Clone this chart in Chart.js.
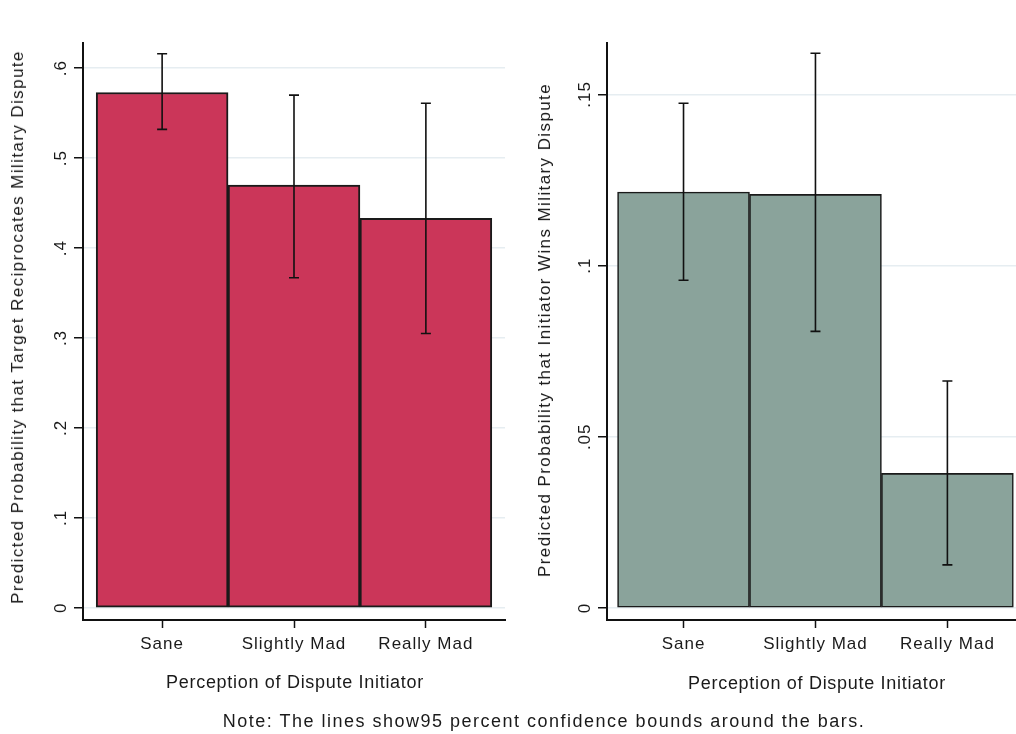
<!DOCTYPE html>
<html>
<head>
<meta charset="utf-8">
<script src="https://cdn.jsdelivr.net/npm/chart.js@4.4.1/dist/chart.umd.min.js"></script>
<style>
  body { margin: 0; background: #fff; width: 1016px; height: 734px; overflow: hidden; position: relative;
         font-family: "Liberation Sans", Arial, sans-serif; color: #1a1a1a; }
  canvas { position: absolute; top: 0; }
  #leftChart { left: 0; }
  #rightChart { left: 515px; }
  .ytitle { position: absolute; white-space: nowrap; font-size: 17px; letter-spacing: 1.4px;
            transform: translate(-50%, -50%) rotate(-90deg); }
  .xtitle { position: absolute; white-space: nowrap; font-size: 18px; letter-spacing: 0.7px;
            transform: translate(-50%, -50%); }
  #note { position: absolute; left: 544px; top: 721px; white-space: nowrap; font-size: 18px; letter-spacing: 1.5px;
          transform: translate(-50%, -50%); }
</style>
</head>
<body>
<canvas id="leftChart" width="515" height="734"></canvas>
<canvas id="rightChart" width="501" height="734"></canvas>

<div class="ytitle" style="left:18px;top:327px">Predicted Probability that Target Reciprocates Military Dispute</div>
<div class="ytitle" style="left:545px;top:330px">Predicted Probability that Initiator Wins Military Dispute</div>
<div class="xtitle" style="left:295px;top:682px">Perception of Dispute Initiator</div>
<div class="xtitle" style="left:817px;top:683px">Perception of Dispute Initiator</div>
<div id="note">Note: The lines show95 percent confidence bounds around the bars.</div>

<script>
// 데이터
const categories = ['Sane', 'Slightly Mad', 'Really Mad'];

const reciprocate = [0.573, 0.470, 0.433];
const reciprocateLow = [0.532, 0.367, 0.305];
const reciprocateHigh = [0.616, 0.570, 0.561];
const reciprocateTicks = [0, 0.1, 0.2, 0.3, 0.4, 0.5, 0.6];

const initiatorWins = [0.1215, 0.1208, 0.0393];
const winsLow = [0.0957, 0.0808, 0.0126];
const winsHigh = [0.1474, 0.1620, 0.0663];
const winsTicks = [0, 0.05, 0.1, 0.15];

const FONT = '"Liberation Sans", Arial, sans-serif';

// 신뢰구간 선 그리기
const errorBarPlugin = {
  id: 'errorBars',
  afterDatasetsDraw(chart, args, opts) {
    const ctx = chart.ctx;
    const xs = chart.scales.x;
    const ys = chart.scales.y;
    ctx.save();
    ctx.strokeStyle = '#111';
    ctx.lineWidth = 1.6;
    opts.low.forEach((lo, i) => {
      const px = xs.getPixelForValue(i + 1);
      const top = ys.getPixelForValue(opts.high[i]);
      const bot = ys.getPixelForValue(lo);
      ctx.beginPath();
      ctx.moveTo(px, top);
      ctx.lineTo(px, bot);
      ctx.moveTo(px - 5, top);
      ctx.lineTo(px + 5, top);
      ctx.moveTo(px - 5, bot);
      ctx.lineTo(px + 5, bot);
      ctx.stroke();
    });
    ctx.restore();
  }
};

// 세로축 눈금 라벨 (90도 회전)
const yLabelPlugin = {
  id: 'yLabels',
  beforeDraw(chart) {
    chart.ctx.letterSpacing = '1px';
  },
  afterDraw(chart) {
    const ctx = chart.ctx;
    const ys = chart.scales.y;
    ctx.save();
    ctx.font = '17px ' + FONT;
    ctx.fillStyle = '#1a1a1a';
    ctx.textAlign = 'center';
    ctx.textBaseline = 'middle';
    ys.ticks.forEach(t => {
      const py = ys.getPixelForValue(t.value);
      ctx.save();
      ctx.translate(ys.right - 22, py);
      ctx.rotate(-Math.PI / 2);
      ctx.fillText(formatTick(t.value), 0, 0);
      ctx.restore();
    });
    ctx.restore();
  }
};

function formatTick(v) {
  if (v === 0) return '0';
  return Number(v.toFixed(3)).toString().replace(/^0\./, '.');
}

function makeChart(id, values, low, high, ticks, color, border, yMin, yMax, xMin, xMax, axisWidth, padRight) {
  return new Chart(document.getElementById(id), {
    type: 'bar',
    data: {
      datasets: [{
        data: values.map((v, i) => ({ x: i + 1, y: v })),
        backgroundColor: color,
        borderColor: '#1a1a1a',
        borderWidth: border,
        borderSkipped: false,
        barPercentage: 1,
        categoryPercentage: 1
      }]
    },
    options: {
      responsive: false,
      animation: false,
      layout: { padding: { top: 43, left: 0, right: padRight, bottom: 0 } },
      plugins: {
        legend: { display: false },
        tooltip: { enabled: false },
        errorBars: { low: low, high: high }
      },
      scales: {
        x: {
          type: 'linear',
          offset: false,
          min: xMin,
          max: xMax,
          afterBuildTicks: s => { s.ticks = categories.map((c, i) => ({ value: i + 1 })); },
          afterFit: s => { s.height = 114; },
          grid: { offset: false, drawOnChartArea: false, tickLength: 8, tickColor: '#111', tickWidth: 1.5 },
          border: { display: true, color: '#111', width: 2 },
          ticks: {
            font: { family: FONT, size: 17 },
            color: '#1a1a1a',
            padding: 6,
            maxRotation: 0,
            callback: v => categories[v - 1]
          }
        },
        y: {
          min: yMin,
          max: yMax,
          afterBuildTicks: s => { s.ticks = ticks.map(v => ({ value: v })); },
          afterFit: s => { s.width = axisWidth; },
          grid: { color: '#e6edf1', lineWidth: 1.5, tickLength: 9, tickColor: '#111', tickWidth: 1.5 },
          border: { display: true, color: '#111', width: 2 },
          ticks: { display: false }
        }
      }
    },
    plugins: [errorBarPlugin, yLabelPlugin]
  });
}

makeChart('leftChart', reciprocate, reciprocateLow, reciprocateHigh, reciprocateTicks,
  'rgb(203, 54, 89)', 2, -0.0135, 0.628, 0.4, 3.6, 83, 10);

makeChart('rightChart', initiatorWins, winsLow, winsHigh, winsTicks,
  'rgb(138, 163, 155)', 1.6, -0.0035, 0.165, 0.42, 3.52, 92, 0);
</script>
</body>
</html>
